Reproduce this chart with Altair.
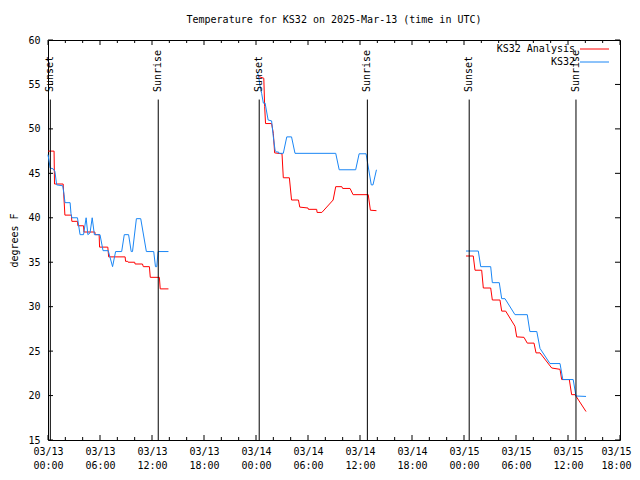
import altair as alt
import pandas as pd

BASE = pd.Timestamp("2025-03-13T00:00:00Z")
FONT = "DejaVu Sans Mono"
RED = "#ff0000"
BLUE = "#1a86f5"

# ---- data: hours after 03/13 00:00 UTC, temperature (F)
analysis_h_1 = [0.0, 0.7, 0.75, 1.75, 1.95, 2.7, 2.75, 3.4, 3.45, 4.1, 4.15, 5.4, 5.45, 5.9, 5.95,
                6.9, 7.0, 8.9, 8.95, 9.2, 9.25, 10.0, 10.05, 10.9, 11.0, 11.7, 11.8, 12.85, 12.95, 13.9]
analysis_t_1 = [47.5, 47.5, 43.8, 43.8, 40.3, 40.3, 39.6, 39.6, 39.1, 39.1, 38.4, 38.4, 38.1, 38.1, 36.7,
                36.7, 35.6, 35.6, 35.1, 35.1, 35.0, 35.0, 34.8, 34.8, 34.5, 34.5, 33.3, 33.3, 32.0, 32.0]

analysis_h_2 = [24.27, 24.9, 25.0, 25.1, 25.8, 26.0, 26.15, 27.0, 27.15, 27.85, 28.1, 28.9, 29.05, 30.0,
                30.05, 31.0, 31.05, 31.6, 32.9, 33.2, 33.9, 34.0, 34.85, 35.2, 36.95, 37.2, 37.9]
analysis_t_2 = [55.9, 55.7, 52.5, 50.6, 50.6, 49.5, 47.3, 47.2, 44.5, 44.5, 42.0, 42.0, 41.2, 41.1,
                40.95, 40.95, 40.6, 40.6, 42.0, 43.5, 43.5, 43.3, 43.3, 42.6, 42.6, 40.85, 40.8]

analysis_h_3 = [48.23, 49.07, 49.27, 50.04, 50.23, 51.08, 51.27, 52.15, 52.35, 52.81, 53.88, 54.08,
                54.92, 55.3, 56.08, 56.31, 56.77, 58.12, 59.08, 59.27, 60.15, 60.42, 60.81, 62.08]
analysis_t_3 = [35.7, 35.7, 34.1, 34.1, 32.1, 32.1, 30.75, 30.75, 29.5, 29.5, 27.8, 26.6,
                26.55, 25.9, 25.9, 24.8, 24.8, 23.1, 22.95, 21.8, 21.8, 20.1, 20.1, 18.2]

ks32_h_1 = [0.0, 0.25, 0.6, 0.8, 1.0, 1.7, 1.85, 1.96, 2.55, 2.65, 2.75, 3.4, 3.7, 4.1, 4.4, 4.6,
            4.85, 5.1, 5.35, 6.0, 6.35, 6.95, 7.45, 7.8, 8.5, 8.8, 9.3, 9.6, 9.75, 10.2, 10.7,
            11.35, 12.2, 12.4, 12.55, 12.7, 13.9]
ks32_t_1 = [47.1, 45.6, 45.5, 45.2, 43.7, 43.6, 42.6, 41.7, 41.7, 40.5, 40.0, 40.0, 38.1, 38.1, 40.0, 38.1,
            38.3, 40.0, 38.1, 38.1, 36.3, 36.3, 34.5, 36.2, 36.2, 38.1, 38.1, 36.2, 36.2, 39.9, 39.9,
            36.2, 36.2, 34.5, 34.5, 36.2, 36.2]

ks32_h_2 = [24.15, 24.3, 24.45, 24.65, 24.85, 25.05, 25.4, 25.8, 26.0, 26.2, 26.35, 26.6, 26.65, 27.15,
            27.55, 28.1, 28.5, 33.2, 33.6, 35.5, 35.9, 36.7, 37.3, 37.5, 37.9]
ks32_t_2 = [56.4, 55.9, 54.9, 54.0, 52.9, 52.9, 51.0, 50.9, 49.1, 47.6, 47.4, 47.4, 47.25, 47.25,
            49.1, 49.1, 47.25, 47.25, 45.4, 45.4, 47.2, 47.2, 43.7, 43.7, 45.4]

ks32_h_3 = [48.23, 49.65, 49.93, 51.08, 51.27, 52.07, 52.35, 52.73, 53.88, 55.3, 55.6, 56.4, 56.77,
            57.92, 59.08, 59.4, 60.6, 60.92, 62.08]
ks32_t_3 = [36.26, 36.26, 34.5, 34.5, 32.7, 32.7, 30.9, 30.9, 29.1, 29.1, 27.2, 27.2, 25.3,
            23.6, 23.6, 21.8, 21.8, 19.95, 19.9]

sun_labels = ["Sunset", "Sunrise", "Sunset", "Sunrise", "Sunset", "Sunrise"]
sun_hours = [0.27, 12.72, 24.37, 36.85, 48.6, 60.92]

y_ticks = [15, 20, 25, 30, 35, 40, 45, 50, 55, 60]
x_major_hours = list(range(0, 67, 6))
x_minor_hours = [h for h in range(0, 67, 2) if h % 6 != 0]


def ts(h):
    return (BASE + pd.Timedelta(hours=h)).strftime("%Y-%m-%dT%H:%M:%SZ")


def ms(h):
    return int((BASE + pd.Timedelta(hours=h)).value // 10**6)


def frame(parts, series):
    rows = []
    for seg, (hs, tv) in enumerate(parts):
        for h, t in zip(hs, tv):
            rows.append({"time": ts(h), "temp": t, "series": series, "seg": seg})
    return pd.DataFrame(rows)


red_df = frame([(analysis_h_1, analysis_t_1), (analysis_h_2, analysis_t_2),
                (analysis_h_3, analysis_t_3)], "KS32 Analysis")
blue_df = frame([(ks32_h_1, ks32_t_1), (ks32_h_2, ks32_t_2), (ks32_h_3, ks32_t_3)], "KS32")
sun_df = pd.DataFrame({"time": [ts(h) for h in sun_hours], "label": sun_labels})
major_df = pd.DataFrame({"time": [ts(h) for h in x_major_hours]})
minor_df = pd.DataFrame({"time": [ts(h) for h in x_minor_hours]})
ytick_df = pd.DataFrame({"temp": y_ticks})

xscale = alt.Scale(type="utc", domain=[ms(0), ms(66)])
yscale = alt.Scale(domain=[15, 60], nice=False, zero=False)

x_axis = alt.Axis(
    values=[ms(h) for h in x_major_hours],
    labelExpr="[utcFormat(datum.value, '%m/%d'), utcFormat(datum.value, '%H:%M')]",
    ticks=False, domain=False, grid=False, labelFlush=False, labelOverlap=False,
    labelPadding=6, labelLineHeight=14, title=None,
    labelOffset={"condition": {"test": f"datum.value >= {ms(66)}", "value": -4}, "value": 0},
)
y_axis = alt.Axis(
    values=y_ticks, ticks=False, domain=False, grid=False, labelPadding=8,
    title="degrees F", titleX=-34, titleY=200, titleAngle=270,
    titleAlign="center", titleBaseline="middle", labelFlush=False,
)

# identical axis definitions in every layer so that the shared axes merge cleanly
X = alt.X("time:T", scale=xscale, axis=x_axis, title=None)
Y = alt.Y("temp:Q", scale=yscale, axis=y_axis, title="degrees F")

red_line = alt.Chart(red_df).mark_line(color=RED, strokeWidth=1).encode(x=X, y=Y, detail="seg:N")
blue_line = alt.Chart(blue_df).mark_line(color=BLUE, strokeWidth=1).encode(x=X, y=Y, detail="seg:N")

sun_rules = alt.Chart(sun_df).mark_rule(color="black", strokeWidth=1).encode(
    x=X, y=alt.YDatum(53.3, scale=yscale, axis=y_axis, title="degrees F"), y2=alt.Y2Datum(15))
sun_text = alt.Chart(sun_df).mark_text(
    angle=270, align="left", baseline="middle", font=FONT, fontSize=10, color="black"
).encode(x=X, y=alt.YDatum(54.15, scale=yscale, axis=y_axis, title="degrees F"), text="label:N")

tick_major_b = alt.Chart(major_df).mark_rule(color="black").encode(
    x=X, y=alt.value(400), y2=alt.value(395))
tick_major_t = alt.Chart(major_df).mark_rule(color="black").encode(
    x=X, y=alt.value(0), y2=alt.value(5))
tick_minor_b = alt.Chart(minor_df).mark_rule(color="black").encode(
    x=X, y=alt.value(400), y2=alt.value(397))
tick_minor_t = alt.Chart(minor_df).mark_rule(color="black").encode(
    x=X, y=alt.value(0), y2=alt.value(3))
ytick_l = alt.Chart(ytick_df).mark_rule(color="black").encode(
    y=Y, x=alt.value(0), x2=alt.value(5))
ytick_r = alt.Chart(ytick_df).mark_rule(color="black").encode(
    y=Y, x=alt.value(572), x2=alt.value(567))

one = alt.Data(values=[{}])
leg_text1 = alt.Chart(one).mark_text(align="right", baseline="middle", font=FONT, fontSize=10,
                                     color="black").encode(
    x=alt.value(527), y=alt.value(9), text=alt.value("KS32 Analysis"))
leg_text2 = alt.Chart(one).mark_text(align="right", baseline="middle", font=FONT, fontSize=10,
                                     color="black").encode(
    x=alt.value(527), y=alt.value(22), text=alt.value("KS32"))
leg_rule1 = alt.Chart(one).mark_rule(color=RED, strokeWidth=1).encode(
    x=alt.value(532), x2=alt.value(561), y=alt.value(9))
leg_rule2 = alt.Chart(one).mark_rule(color=BLUE, strokeWidth=1).encode(
    x=alt.value(532), x2=alt.value(561), y=alt.value(22))

chart = alt.layer(
    red_line, blue_line, sun_rules, sun_text,
    tick_major_b, tick_major_t, tick_minor_b, tick_minor_t, ytick_l, ytick_r,
    leg_text1, leg_text2, leg_rule1, leg_rule2,
).properties(
    width=572, height=400,
    autosize=alt.AutoSizeParams(type="none"),
    padding={"left": 40, "top": 32, "right": 12, "bottom": 36},
    title=alt.TitleParams("Temperature for KS32 on 2025-Mar-13 (time in UTC)", font=FONT,
                          fontSize=10, fontWeight="normal", color="black", anchor="middle",
                          baseline="bottom", offset=0),
    background="white",
).configure_view(stroke="black", strokeWidth=1).configure_axis(
    labelFont=FONT, labelFontSize=10, labelColor="black",
    titleFont=FONT, titleFontSize=10, titleFontWeight="normal", titleColor="black",
)

chart.save("out.html", embed_options={"renderer": "svg", "actions": False})
